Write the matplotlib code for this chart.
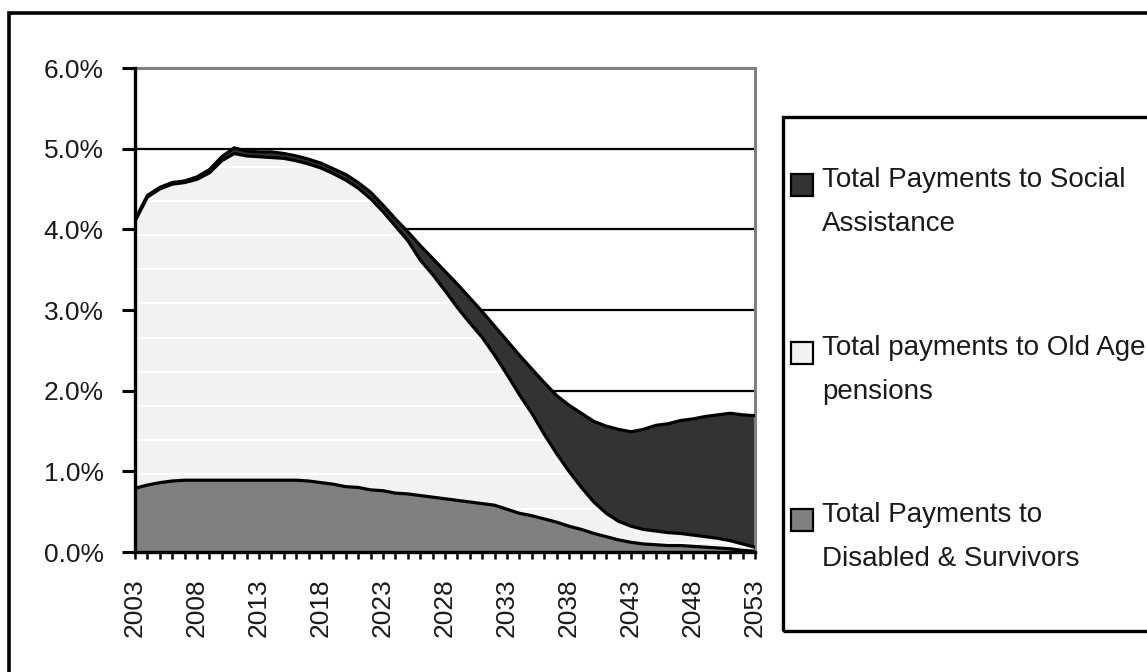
import numpy as np
import matplotlib
matplotlib.use("Agg")
import matplotlib.pyplot as plt
from matplotlib.patches import Rectangle

# ---------------- data ----------------
years = list(range(2003, 2054))

disabled_survivors = [
    0.79, 0.83, 0.86, 0.88, 0.89, 0.89, 0.89, 0.89, 0.89, 0.89,
    0.89, 0.89, 0.89, 0.89, 0.88, 0.86, 0.84, 0.81, 0.80, 0.77,
    0.76, 0.73, 0.72, 0.70, 0.68, 0.66, 0.64, 0.62, 0.60, 0.58,
    0.53, 0.48, 0.45, 0.41, 0.37, 0.32, 0.28, 0.23, 0.19, 0.15,
    0.12, 0.10, 0.09, 0.08, 0.08, 0.07, 0.06, 0.05, 0.04, 0.02,
    0.01,
]
old_age_pensions = [
    3.31, 3.57, 3.64, 3.68, 3.69, 3.73, 3.81, 3.96, 4.05, 4.02,
    4.01, 4.00, 3.99, 3.96, 3.93, 3.90, 3.85, 3.80, 3.71, 3.61,
    3.46, 3.31, 3.14, 2.92, 2.76, 2.58, 2.39, 2.22, 2.06, 1.86,
    1.67, 1.47, 1.27, 1.05, 0.85, 0.68, 0.52, 0.39, 0.29, 0.23,
    0.20, 0.18, 0.17, 0.16, 0.15, 0.14, 0.13, 0.12, 0.10, 0.08,
    0.05,
]
social_assistance = [
    0.02, 0.02, 0.02, 0.02, 0.02, 0.03, 0.04, 0.05, 0.07, 0.06,
    0.06, 0.07, 0.06, 0.06, 0.06, 0.06, 0.06, 0.07, 0.07, 0.08,
    0.08, 0.09, 0.11, 0.18, 0.20, 0.24, 0.29, 0.31, 0.32, 0.36,
    0.42, 0.49, 0.55, 0.64, 0.72, 0.82, 0.92, 1.00, 1.08, 1.14,
    1.17, 1.24, 1.31, 1.35, 1.40, 1.44, 1.49, 1.53, 1.58, 1.60,
    1.63,
]

labels = [
    "Total Payments to Social\nAssistance",
    "Total payments to Old Age\npensions",
    "Total Payments to\nDisabled & Survivors",
]
colors = ["#333333", "#f2f2f2", "#808080"]   # social, old age, disabled

y_ticks = [0, 1, 2, 3, 4, 5, 6]
x_label_years = list(range(2003, 2054, 5))

# ---------------- figure ----------------
W, H = 1147, 672
plt.rcParams['font.family'] = ['Liberation Sans', 'DejaVu Sans']
fig = plt.figure(figsize=(W / 100, H / 100), dpi=100)
fig.patch.set_facecolor("white")

def fx(px):
    return px / W

def fy(py):
    return 1 - py / H

ax = fig.add_axes([fx(135), fy(552), fx(755) - fx(135), fy(68) - fy(552)])

x = np.array(years)
d = np.array(disabled_survivors)
o = np.array(old_age_pensions)
s = np.array(social_assistance)
lvl1 = d
lvl2 = d + o
lvl3 = d + o + s

ax.set_axisbelow(True)
ax.yaxis.grid(True, color="black", lw=1.6)
ax.xaxis.grid(False)

ax.fill_between(x, 0, lvl1, color=colors[2], lw=0, zorder=2)
poly_old = ax.fill_between(x, lvl1, lvl2, color=colors[1], lw=0, zorder=2)
ax.fill_between(x, lvl2, lvl3, color=colors[0], lw=0, zorder=2)

# faint white texture lines inside the old-age area
for yv in np.arange(0.115, 6, 0.4237):
    ln = ax.axhline(yv, color="white", lw=1.5, zorder=2.5)
    ln.set_clip_path(poly_old.get_paths()[0], ax.transData)

for lv in (lvl1, lvl2, lvl3):
    ax.plot(x, lv, color="black", lw=2.3, zorder=3, solid_joinstyle="miter")

ax.set_xlim(2003, 2053)
ax.set_ylim(0, 6)

ax.set_yticks(y_ticks)
ax.set_yticklabels([f"{v:.1f}%" for v in y_ticks])
ax.set_xticks(years)
ax.set_xticklabels([str(yv) if yv in x_label_years else "" for yv in years],
                   rotation=90)

ax.tick_params(axis="y", direction="out", length=9.5, width=2.2,
               pad=13, labelsize=19, labelcolor="#1a1a1a")
ax.tick_params(axis="x", direction="out", length=5, width=1.8,
               pad=14, labelsize=19, labelcolor="#1a1a1a")

for side in ("top", "right"):
    ax.spines[side].set_color("#808080")
    ax.spines[side].set_linewidth(2.2)
for side in ("left", "bottom"):
    ax.spines[side].set_color("black")
    ax.spines[side].set_linewidth(2.4)
    ax.spines[side].set_zorder(4)

# outer frame (extends past right/bottom edges)
fig.add_artist(Rectangle((fx(9), -0.2), 1.5, fy(13) + 0.2,
                         transform=fig.transFigure, fill=False,
                         ec="black", lw=2.6))

# legend box (extends past right edge)
fig.add_artist(Rectangle((fx(783), fy(631)), 1.0, fy(117) - fy(631),
                         transform=fig.transFigure, fill=False,
                         ec="black", lw=2.4))

sq_centers = [185, 353, 520]
for lab, col, cy in zip(labels, colors, sq_centers):
    fig.add_artist(Rectangle((fx(791), fy(cy + 11)), fx(22), fy(cy - 11) - fy(cy + 11),
                             transform=fig.transFigure, fc=col, ec="black", lw=1.6))
    fig.text(fx(822), fy(cy - 18), lab, ha="left", va="top", fontsize=20,
             color="#1a1a1a", linespacing=1.9)

fig.savefig("out.png", dpi=100)
